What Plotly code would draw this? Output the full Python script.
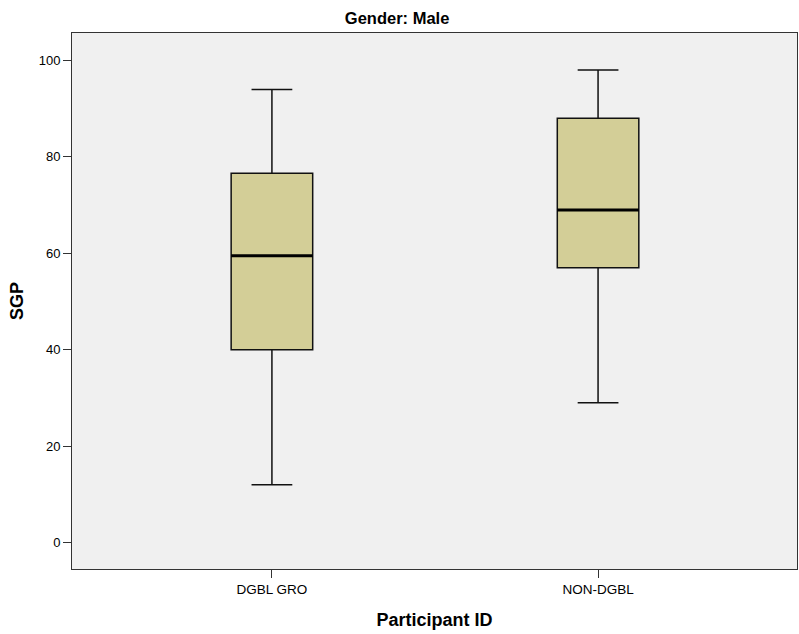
import plotly.graph_objects as go

groups = ["DGBL GRO", "NON-DGBL"]
lower_whisker = [12, 29]
q1_values = [40, 57]
median_values = [59.5, 69]
q3_values = [76.6, 88]
upper_whisker = [94, 98]

y_ticks = [0, 20, 40, 60, 80, 100]

fig = go.Figure()
fig.add_trace(go.Box(
    x=groups, q1=q1_values, median=median_values, q3=q3_values,
    lowerfence=lower_whisker, upperfence=upper_whisker,
    fillcolor="#D3CE97", line=dict(color="#111111", width=1.5),
    width=0.25, whiskerwidth=0.5, boxpoints=False, showlegend=False,
    hoverinfo="skip"))
# thicker median line overlay
fig.add_trace(go.Box(
    x=groups, q1=median_values, median=median_values, q3=median_values,
    lowerfence=median_values, upperfence=median_values,
    fillcolor="rgba(0,0,0,0)", line=dict(color="#000000", width=3),
    width=0.25, whiskerwidth=0, boxpoints=False, showlegend=False,
    hoverinfo="skip"))

font = "Liberation Sans, Arial, sans-serif"
fig.update_layout(
    width=799, height=634,
    margin=dict(l=72, r=2, t=33, b=65),
    paper_bgcolor="white", plot_bgcolor="#F0F0F0",
    boxmode="overlay",
    font=dict(family=font, size=13, color="#000"),
    title=dict(text="<b>Gender: Male</b>", x=0.497, xanchor="center",
               y=0.972, yanchor="middle", font=dict(size=16.5, family=font)),
    xaxis=dict(range=[-0.613, 1.61], showgrid=False, zeroline=False,
               showline=True, linecolor="#333", linewidth=1, mirror=True,
               ticks="outside", ticklen=8, tickcolor="#333",
               tickfont=dict(size=13.5),
               title=dict(text="<b>Participant ID</b>", font=dict(size=18), standoff=17)),
    yaxis=dict(range=[-5.5, 105.7], tickvals=y_ticks, showgrid=False, zeroline=False,
               showline=True, linecolor="#333", linewidth=1, mirror=True,
               ticks="outside", ticklen=8, tickcolor="#333",
               tickfont=dict(size=13),
               title=dict(text="<b>SGP</b>", font=dict(size=18), standoff=10)),
)
fig.write_html("out.html", config={"displayModeBar": False},
               post_script="document.body.style.margin='0';document.body.style.overflow='hidden';")
